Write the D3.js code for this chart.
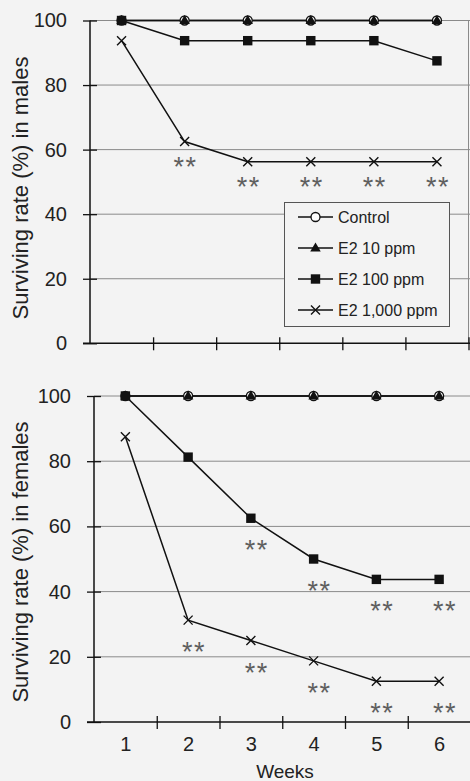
<!DOCTYPE html>
<html>
<head>
<meta charset="utf-8">
<script src="https://cdn.jsdelivr.net/npm/d3@7.9.0/dist/d3.min.js"></script>
<style>
  html, body { margin: 0; padding: 0; background: #f3f3f3; }
  svg { display: block; font-family: "Liberation Sans", Arial, sans-serif; }
</style>
</head>
<body>
<svg id="chart" width="470" height="781"></svg>
<script>
// data
const weeks = [1, 2, 3, 4, 5, 6];
const seriesNames = ["Control", "E2 10 ppm", "E2 100 ppm", "E2 1,000 ppm"];
const yTicks = [0, 20, 40, 60, 80, 100];

const maleControl = [100, 100, 100, 100, 100, 100];
const maleE2_10 = [100, 100, 100, 100, 100, 100];
const maleE2_100 = [100, 93.75, 93.75, 93.75, 93.75, 87.5];
const maleE2_1000 = [93.75, 62.5, 56.25, 56.25, 56.25, 56.25];

const femaleControl = [100, 100, 100, 100, 100, 100];
const femaleE2_10 = [100, 100, 100, 100, 100, 100];
const femaleE2_100 = [100, 81.25, 62.5, 50, 43.75, 43.75];
const femaleE2_1000 = [87.5, 31.25, 25, 18.75, 12.5, 12.5];

// weeks marked ** (series index -> weeks)
const maleSignif = [[3, [2, 3, 4, 5, 6]]];
const femaleSignif = [[2, [3, 4, 5, 6]], [3, [2, 3, 4, 5, 6]]];

const svg = d3.select("#chart");
const markers = ["circle", "triangle", "square", "cross"];

function drawMarker(g, type, cx, cy) {
  if (type === "circle") {
    g.append("circle").attr("cx", cx).attr("cy", cy).attr("r", 4.5)
      .attr("fill", "#fff").attr("stroke", "#111").attr("stroke-width", 1.3);
  } else if (type === "triangle") {
    g.append("path")
      .attr("d", d3.symbol().type(d3.symbolTriangle).size(48)())
      .attr("transform", `translate(${cx},${cy + 0.5})`)
      .attr("fill", "#111");
  } else if (type === "square") {
    g.append("rect").attr("x", cx - 4.7).attr("y", cy - 4.7)
      .attr("width", 9.4).attr("height", 9.4).attr("fill", "#111");
  } else {
    g.append("path")
      .attr("d", `M${cx - 4.5},${cy - 4.5}L${cx + 4.5},${cy + 4.5}M${cx - 4.5},${cy + 4.5}L${cx + 4.5},${cy - 4.5}`)
      .attr("stroke", "#111").attr("stroke-width", 1.4).attr("fill", "none");
  }
}

function panel(opts) {
  const { left, right, top, bottom, series, signif, title, titleY, showLabels, box, starDx, starDy } = opts;
  const x = d3.scaleLinear().domain([0.5, 6.5]).range([left, right]);
  const y = d3.scaleLinear().domain([0, 100]).range([bottom, top]);
  const g = svg.append("g");

  // gridlines
  g.append("g").selectAll("line").data(yTicks.filter(d => d > 0)).join("line")
    .attr("x1", left).attr("x2", 472)
    .attr("y1", d => y(d)).attr("y2", d => y(d))
    .attr("stroke", "#8a8a8a").attr("stroke-width", 1);
  if (box) {
    g.append("line").attr("x1", right).attr("x2", right).attr("y1", top).attr("y2", bottom)
      .attr("stroke", "#8a8a8a");
  }

  // y axis
  const ya = g.append("g").attr("transform", `translate(${left},0)`)
    .call(d3.axisLeft(y).tickValues(yTicks).tickSize(7).tickPadding(16));
  ya.select(".domain").attr("stroke", "#111").attr("stroke-width", 1.5).attr("d", `M0,${top}V${bottom}`);
  ya.selectAll(".tick line").attr("x1", -7).attr("x2", 7).attr("stroke", "#111").attr("stroke-width", 1.3);
  ya.selectAll(".tick text").attr("font-size", 20).attr("fill", "#222").attr("font-family", "Liberation Sans, Arial");

  // x axis
  const xa = g.append("g").attr("transform", `translate(0,${bottom})`)
    .call(d3.axisBottom(x).tickValues(d3.range(1.5, 7, 1)).tickFormat("").tickSize(6));
  xa.select(".domain").attr("stroke", "#111").attr("stroke-width", 1.5).attr("d", `M${left - 7},0H472`);
  xa.selectAll(".tick line").attr("y1", -6).attr("y2", 7).attr("stroke", "#111").attr("stroke-width", 1.3);

  if (showLabels) {
    const xl = g.append("g").attr("transform", `translate(0,${bottom})`)
      .call(d3.axisBottom(x).tickValues(weeks).tickFormat(d3.format("d")).tickSize(0).tickPadding(15));
    xl.select(".domain").remove();
    xl.selectAll("text").attr("font-size", 20).attr("fill", "#222").attr("font-family", "Liberation Sans, Arial");
    g.append("text").attr("x", 285).attr("y", 777.5).attr("text-anchor", "middle")
      .attr("font-size", 19).attr("fill", "#222").text("Weeks");
  }

  // title
  g.append("text").attr("transform", `translate(28,${titleY}) rotate(-90)`)
    .attr("text-anchor", "middle").attr("font-size", 22).attr("fill", "#222").text(title);

  // lines and markers
  const line = d3.line().x((d, i) => x(weeks[i])).y(d => y(d));
  series.forEach((vals) => {
    g.append("path").attr("d", line(vals)).attr("fill", "none")
      .attr("stroke", "#111").attr("stroke-width", 1.5);
  });
  series.forEach((vals, si) => {
    const mg = g.append("g");
    vals.forEach((v, i) => drawMarker(mg, markers[si], x(weeks[i]), y(v)));
  });

  // significance stars
  signif.forEach(([si, ws]) => {
    ws.forEach(w => {
      g.append("text").attr("x", x(w) + starDx).attr("y", y(series[si][w - 1]) + starDy + 13)
        .attr("text-anchor", "middle").attr("font-size", 27).attr("fill", "#5f5f5f")
        .attr("letter-spacing", 1.5).text("**");
    });
  });
  return g;
}

panel({
  left: 90, right: 468.5, top: 20.5, bottom: 343.3,
  series: [maleControl, maleE2_10, maleE2_100, maleE2_1000],
  signif: maleSignif, title: "Surviving rate (%) in males", titleY: 188,
  showLabels: false, box: true, starDx: 1, starDy: 21
});
panel({
  left: 94, right: 470.5, top: 396, bottom: 722,
  series: [femaleControl, femaleE2_10, femaleE2_100, femaleE2_1000],
  signif: femaleSignif, title: "Surviving rate (%) in females", titleY: 562,
  showLabels: true, box: false, starDx: 6, starDy: 28
});

// legend
const lg = svg.append("g");
lg.append("rect").attr("x", 284.5).attr("y", 202.5).attr("width", 165).attr("height", 124)
  .attr("fill", "#f3f3f3").attr("stroke", "#555").attr("stroke-width", 1);
seriesNames.forEach((name, i) => {
  const cy = 217 + i * 31;
  lg.append("line").attr("x1", 298).attr("x2", 333).attr("y1", cy).attr("y2", cy)
    .attr("stroke", "#111").attr("stroke-width", 1.4);
  drawMarker(lg, markers[i], 315.5, cy);
  lg.append("text").attr("x", 338).attr("y", cy).attr("dy", "0.35em")
    .attr("font-size", 16).attr("fill", "#222").text(name);
});
</script>
</body>
</html>
